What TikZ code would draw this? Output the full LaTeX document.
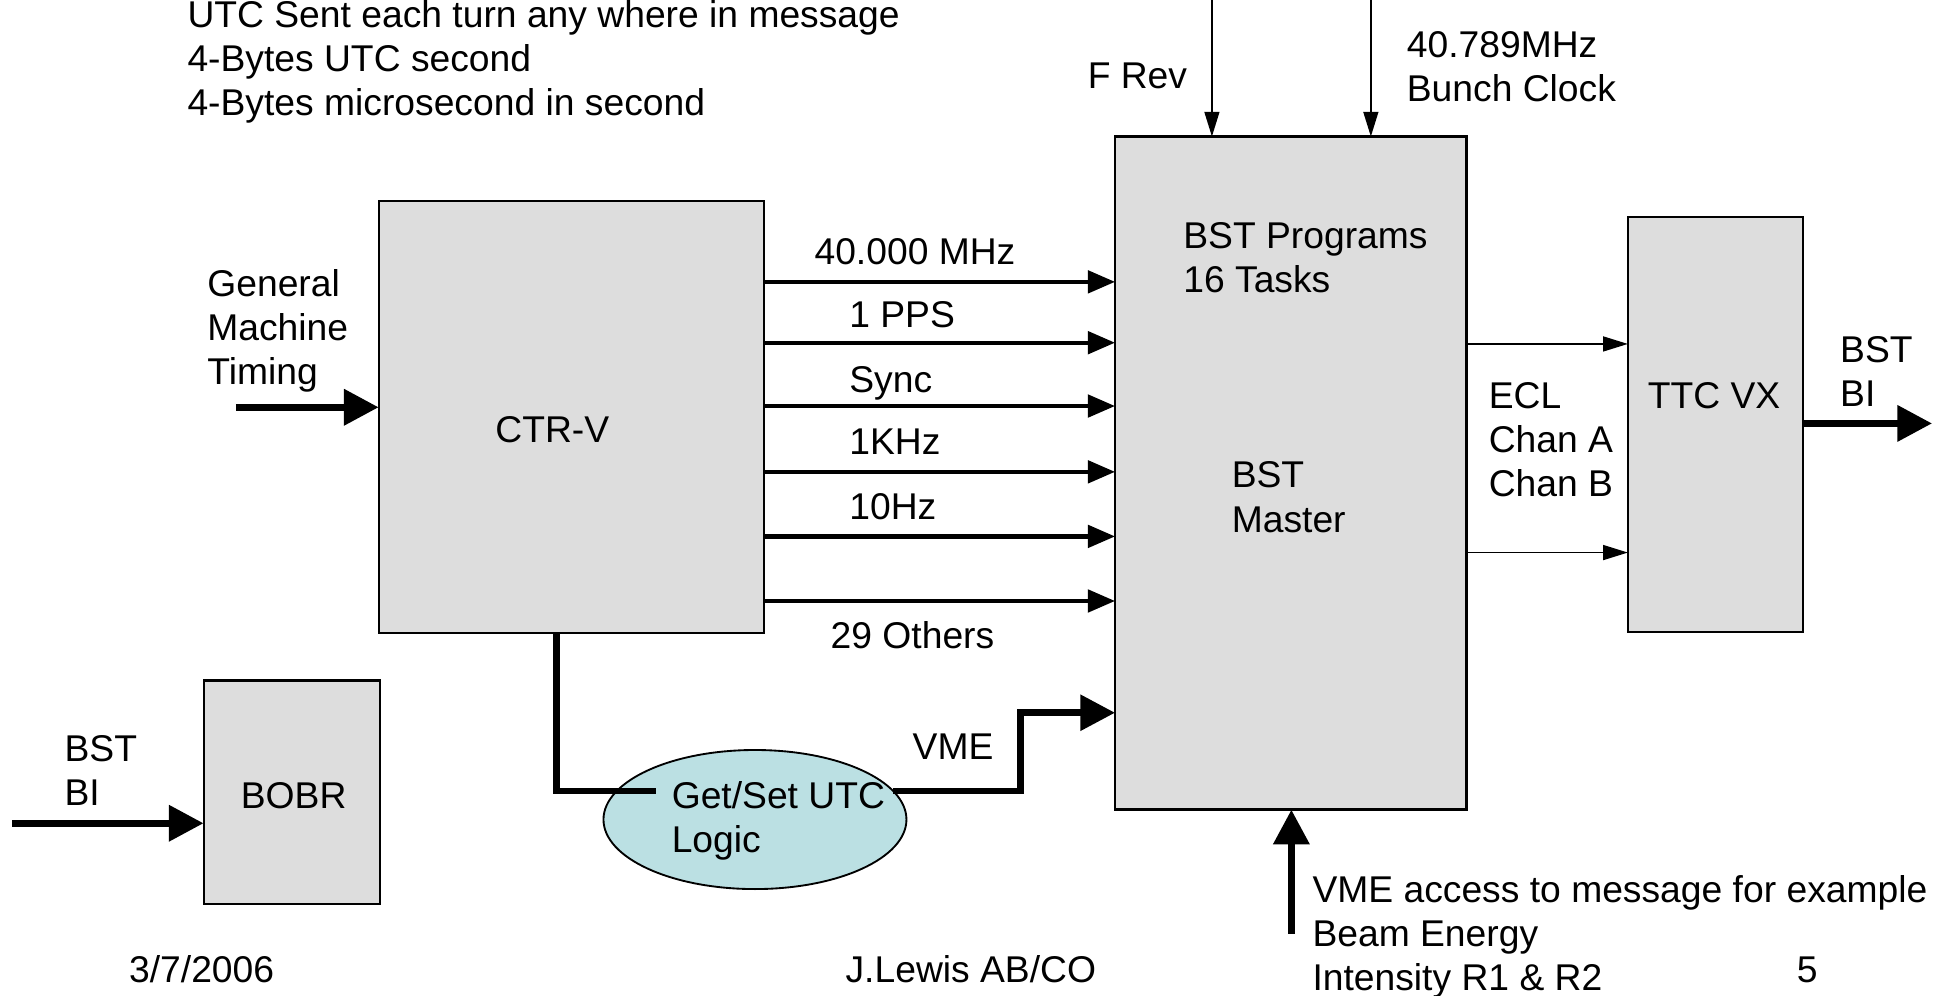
\documentclass[tikz,border=0pt]{standalone}
\usepackage{fontspec}
\setmainfont{Liberation Sans}
\usetikzlibrary{arrows.meta,shapes.geometric}
\definecolor{boxgray}{RGB}{221,221,221}
\definecolor{utccyan}{RGB}{187,224,227}
\begin{document}
\begin{tikzpicture}[x=1pt,y=-1pt,
  every node/.style={font=\fontsize{30pt}{35.5pt}\selectfont, inner sep=0pt, outer sep=0pt},
  box/.style={draw=black, line width=1.8pt, fill=boxgray, anchor=north west},
  txt/.style={anchor=base west, align=left},
  sig/.style={line width=3.5pt, -{Triangle[length=22pt,width=18pt]}},
  thinarr/.style={line width=1.5pt, -{Triangle[length=20pt,width=12pt]}},
  bigarr/.style={line width=6pt, -{Triangle[length=28pt,width=28pt]}},
  bus/.style={line width=5.5pt}
]
\useasboundingbox (0,0) rectangle (1568,802);

% boxes
\node[box, minimum width=283pt, minimum height=542pt] (master) at (898,110) {};
\node[box, minimum width=310pt, minimum height=348pt] (ctr) at (305,162) {};
\node[box, minimum width=141pt, minimum height=334pt] (ttc) at (1311,175) {};
\node[box, minimum width=142pt, minimum height=180pt] (bobr) at (164,548) {};
\node[ellipse, draw=black, line width=1.5pt, fill=utccyan, minimum width=244pt, minimum height=112pt] (utc) at (608,660) {};

% helper coordinates
\coordinate (frevtop) at (976,0);
\coordinate (bunchtop) at (1104,0);
\coordinate (s1) at (0,227);
\coordinate (s2) at (0,276);
\coordinate (s3) at (0,327);
\coordinate (s4) at (0,380);
\coordinate (s5) at (0,432);
\coordinate (s6) at (0,484);
\coordinate (gmtstart) at (190,328);
\coordinate (bobrstart) at (10,663);
\coordinate (ttcout) at (1556,341);
\coordinate (e1) at (0,277);
\coordinate (e2) at (0,445);
\coordinate (vmebot) at (1040,752);
\coordinate (bend1) at (448,637);
\coordinate (gl) at (528,637);
\coordinate (gr) at (719,637);
\coordinate (bend2) at (822,637);
\coordinate (bend3) at (822,574);

% connectors
\draw[thinarr] (frevtop) -- (master.north -| frevtop);
\draw[thinarr] (bunchtop) -- (master.north -| bunchtop);
\foreach \s in {s1,s2,s3,s4,s5,s6}
  \draw[sig] (ctr.east |- \s) -- (master.west |- \s);
\draw[bigarr] (gmtstart) -- (ctr.west |- gmtstart);
\draw[bigarr] (bobrstart) -- (bobr.west |- bobrstart);
\draw[bigarr] (ttc.east |- ttcout) -- (ttcout);
\draw[thinarr] (master.east |- e1) -- (ttc.west |- e1);
\draw[thinarr] (master.east |- e2) -- (ttc.west |- e2);
\draw[bigarr] (vmebot) -- (master.south -| vmebot);
\draw[bus] (ctr.south -| bend1) -- (bend1) -- (gl);
\draw[bus, -{Triangle[length=28pt,width=28pt]}] (gr) -- (bend2) -- (bend3) -- (master.west |- bend3);

% texts (base anchor of a multi-line node = baseline of its last line)
\node[txt] (topnote) at (151,93) {UTC Sent each turn any where in message\\4-Bytes UTC second\\4-Bytes microsecond in second};
\node[txt] (frev) at (876,71) {F Rev};
\node[txt] (bunch) at (1133,81.5) {40.789MHz\\Bunch Clock};
\node[txt] (progs) at (953,235.5) {BST Programs\\16 Tasks};
\node[txt] (bstm) at (992,428.5) {BST\\Master};
\node[txt] (ctrl) at (399,356) {CTR-V};
\node[txt] (l1) at (656,213) {40.000 MHz};
\node[txt] (l2) at (684,264) {1 PPS};
\node[txt] (l3) at (684,316) {Sync};
\node[txt] (l4) at (684,366) {1KHz};
\node[txt] (l5) at (684,418) {10Hz};
\node[txt] (l6) at (669,522) {29 Others};
\node[txt] (gmt) at (167,310) {General\\Machine\\Timing};
\node[txt] (bobrl) at (194,651) {BOBR};
\node[txt] (bstbil) at (52,648.5) {BST\\BI};
\node[txt] (utcl) at (541,686.5) {Get/Set UTC\\Logic};
\node[txt] (vme) at (735,612) {VME};
\node[txt] (ttcl) at (1327,329) {TTC VX};
\node[txt] (ecl) at (1199,400) {ECL\\Chan A\\Chan B};
\node[txt] (bstbir) at (1482,327.5) {BST\\BI};
\node[txt] (vmeacc) at (1057,798) {VME access to message for example\\Beam Energy\\Intensity R1 \& R2};
\node[txt] (date) at (104,791) {3/7/2006};
\node[txt] (author) at (681,791) {J.Lewis AB/CO};
\node[txt] (page) at (1447,791) {5};
\end{tikzpicture}
\end{document}
